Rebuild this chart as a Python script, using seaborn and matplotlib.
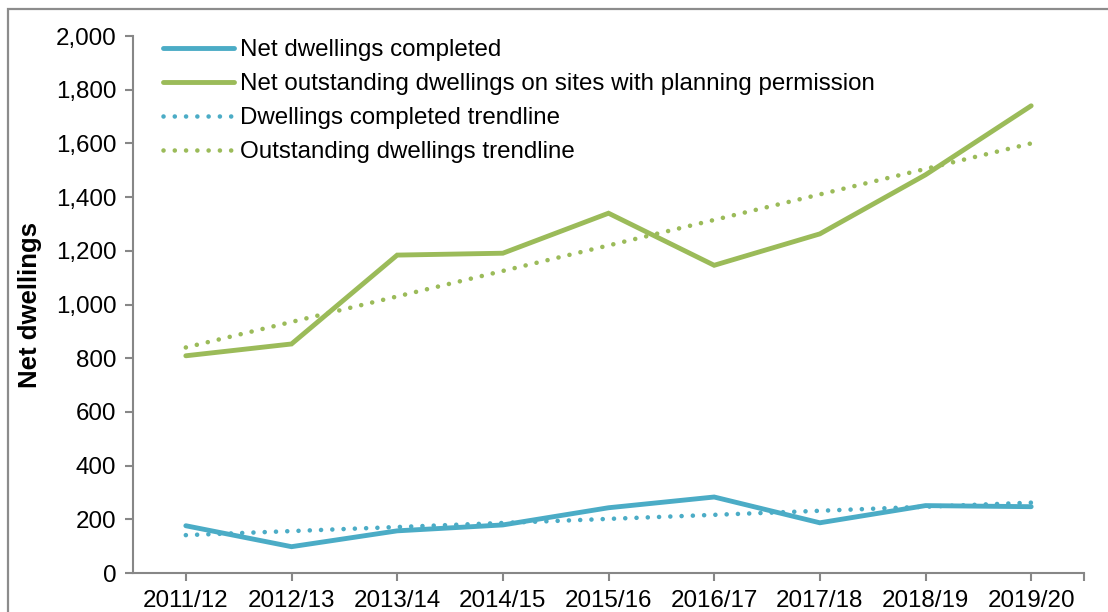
import matplotlib
matplotlib.use("Agg")
import matplotlib.pyplot as plt
import matplotlib.patches as mpatches
import seaborn as sns
import pandas as pd

# Financial years on the category axis
years = ["2011/12", "2012/13", "2013/14", "2014/15", "2015/16",
         "2016/17", "2017/18", "2018/19", "2019/20"]

# Net dwellings completed each year
completed = [176, 98, 157, 179, 243, 283, 187, 251, 247]

# Net outstanding dwellings on sites with planning permission
outstanding = [809, 853, 1184, 1191, 1340, 1146, 1263, 1483, 1740]

# Linear trendline end values (first and last year)
completed_trend = [141, 262]
outstanding_trend = [840, 1600]

blue = "#4BACC6"
green = "#9BBB59"
grey = "#878787"
fs = 17.4

sns.set_theme(style="white")
plt.rcParams["font.family"] = ["Liberation Sans", "DejaVu Sans"]

fig = plt.figure(figsize=(11.08, 6.12), dpi=100)
ax = fig.add_axes([133 / 1108, 1 - 573 / 612, (1084 - 133) / 1108, (573 - 36) / 612])

df = pd.DataFrame({"year": years, "completed": completed, "outstanding": outstanding})
trend_years = [years[0], years[-1]]

dot = (0, (0.01, 2.45))

sns.lineplot(x=df["year"], y=df["completed"], ax=ax, color=blue, linewidth=3.5,
             solid_capstyle="round", solid_joinstyle="miter", sort=False,
             label="Net dwellings completed", zorder=3)
sns.lineplot(x=df["year"], y=df["outstanding"], ax=ax, color=green, linewidth=3.5,
             solid_capstyle="round", solid_joinstyle="miter", sort=False,
             label="Net outstanding dwellings on sites with planning permission", zorder=3)
sns.lineplot(x=trend_years, y=completed_trend, ax=ax, color=blue, linewidth=3.3,
             linestyle=dot, dash_capstyle="round", sort=False,
             label="Dwellings completed trendline", zorder=4)
sns.lineplot(x=trend_years, y=outstanding_trend, ax=ax, color=green, linewidth=3.3,
             linestyle=dot, dash_capstyle="round", sort=False,
             label="Outstanding dwellings trendline", zorder=4)

ax.set_xlim(-0.5, len(years) - 0.5)
ax.set_ylim(0, 2000)
ax.set_yticks(range(0, 2001, 200))
ax.set_yticklabels([f"{v:,}" for v in range(0, 2001, 200)])
ax.set_xticks(range(len(years)))
ax.set_xticklabels(years)
ax.set_xticks([len(years) - 0.5], minor=True)

ax.set_xlabel("")
ax.set_ylabel("Net dwellings", fontsize=18.5, fontweight="bold", labelpad=10,
              color="black")

for side in ["top", "right"]:
    ax.spines[side].set_visible(False)
for side in ["left", "bottom"]:
    ax.spines[side].set_color(grey)
    ax.spines[side].set_linewidth(1.5)

ax.tick_params(axis="both", which="both", direction="out", length=6, width=1.5,
               color=grey, labelsize=fs, labelcolor="black")
ax.tick_params(axis="y", pad=6)
ax.tick_params(axis="x", pad=6)
ax.tick_params(axis="both", which="both", left=True, bottom=True)

leg = ax.legend(loc="upper left", bbox_to_anchor=(163 / 1108, 1 - 39 / 612),
                bbox_transform=fig.transFigure, frameon=False, fontsize=fs,
                handlelength=2.95, handletextpad=0.22, labelspacing=0.5,
                borderpad=0, borderaxespad=0)
for text in leg.get_texts():
    text.set_color("black")
for line in leg.get_lines():
    line.set_solid_capstyle("round")
    line.set_dash_capstyle("round")

# Outer chart border
fig.patches.append(mpatches.Rectangle((8 / 1108, -0.1), 1.2, 1.1 - 9 / 612,
                                      transform=fig.transFigure, fill=False,
                                      edgecolor="#8C8C8C", linewidth=1.6))

fig.savefig("out.png", dpi=100)
